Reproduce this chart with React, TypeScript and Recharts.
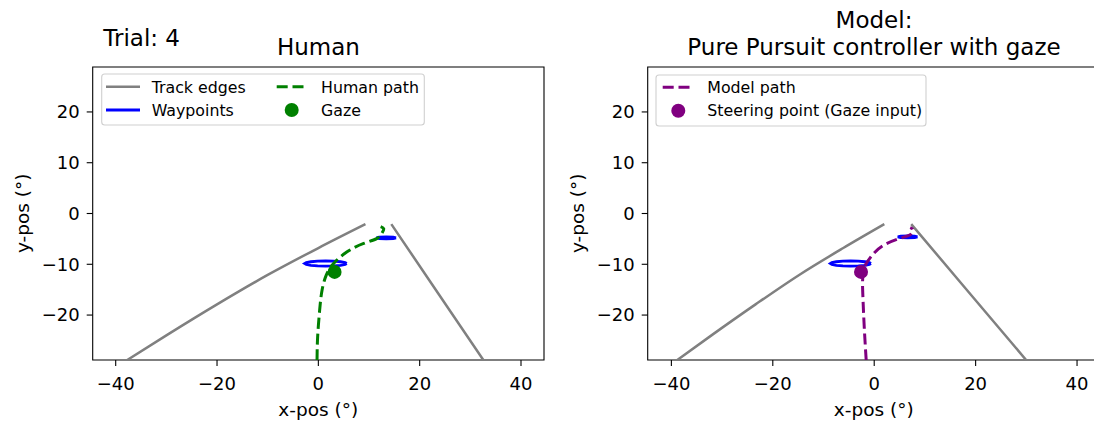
import { ScatterChart, Scatter, XAxis, YAxis, ReferenceArea } from "recharts";

type Pt = { x: number; y: number };

const xTicks = [-40, -20, 0, 20, 40];
const yTicks = [-20, -10, 0, 10, 20];

// left panel: human
const humanTrackLeft: Pt[] = [
  { x: -37.8, y: -28.9 }, { x: -30, y: -24.0 }, { x: -20, y: -17.9 },
  { x: -10, y: -12.1 }, { x: 0, y: -6.8 }, { x: 9.3, y: -2.1 },
];
const humanTrackRight: Pt[] = [
  { x: 14.4, y: -2.1 }, { x: 23.5, y: -15.5 }, { x: 32.6, y: -28.9 },
];
const humanWaypointsNear: Pt[] = [
  { x: 5.6, y: -9.85 }, { x: 5.28, y: -9.66 }, { x: 4.38, y: -9.5 }, { x: 3.04, y: -9.39 },
  { x: 1.45, y: -9.35 }, { x: -0.14, y: -9.39 }, { x: -1.48, y: -9.5 }, { x: -2.38, y: -9.66 },
  { x: -2.7, y: -9.85 }, { x: -2.38, y: -10.04 }, { x: -1.48, y: -10.2 }, { x: -0.14, y: -10.31 },
  { x: 1.45, y: -10.35 }, { x: 3.04, y: -10.31 }, { x: 4.38, y: -10.2 }, { x: 5.28, y: -10.04 },
  { x: 5.6, y: -9.85 },
];
const humanWaypointsFar: Pt[] = [
  { x: 15.35, y: -4.8 }, { x: 14.78, y: -4.66 }, { x: 13.4, y: -4.6 }, { x: 12.02, y: -4.66 },
  { x: 11.45, y: -4.8 }, { x: 12.02, y: -4.94 }, { x: 13.4, y: -5.0 }, { x: 14.78, y: -4.94 },
  { x: 15.35, y: -4.8 },
];
const humanPath: Pt[] = [
  { x: -0.26, y: -28.9 }, { x: -0.14, y: -24.3 }, { x: 0.26, y: -19.0 }, { x: 0.73, y: -15.1 },
  { x: 1.58, y: -12.1 }, { x: 3.0, y: -9.85 }, { x: 5.67, y: -7.55 }, { x: 8.95, y: -5.9 },
  { x: 11.6, y: -4.9 }, { x: 12.6, y: -3.8 }, { x: 12.9, y: -3.0 }, { x: 12.3, y: -2.6 },
];
const humanGaze: Pt[] = [{ x: 3.2, y: -11.5 }];

// right panel: model
const modelTrackLeft: Pt[] = [
  { x: -38.9, y: -28.9 }, { x: -32.1, y: -24.0 }, { x: -23.4, y: -17.9 },
  { x: -14.8, y: -12.1 }, { x: -6.1, y: -6.8 }, { x: 2.0, y: -2.1 },
];
const modelTrackRight: Pt[] = [
  { x: 7.3, y: -2.1 }, { x: 18.65, y: -15.5 }, { x: 30.0, y: -28.9 },
];
const modelWaypointsNear: Pt[] = [
  { x: -0.65, y: -9.85 }, { x: -0.95, y: -9.66 }, { x: -1.82, y: -9.5 }, { x: -3.12, y: -9.39 },
  { x: -4.65, y: -9.35 }, { x: -6.18, y: -9.39 }, { x: -7.48, y: -9.5 }, { x: -8.35, y: -9.66 },
  { x: -8.65, y: -9.85 }, { x: -8.35, y: -10.04 }, { x: -7.48, y: -10.2 }, { x: -6.18, y: -10.31 },
  { x: -4.65, y: -10.35 }, { x: -3.12, y: -10.31 }, { x: -1.82, y: -10.2 }, { x: -0.95, y: -10.04 },
  { x: -0.65, y: -9.85 },
];
const modelWaypointsFar: Pt[] = [
  { x: 8.55, y: -4.6 }, { x: 7.98, y: -4.46 }, { x: 6.6, y: -4.4 }, { x: 5.22, y: -4.46 },
  { x: 4.65, y: -4.6 }, { x: 5.22, y: -4.74 }, { x: 6.6, y: -4.8 }, { x: 7.98, y: -4.74 },
  { x: 8.55, y: -4.6 },
];
const modelPath: Pt[] = [
  { x: -1.58, y: -28.9 }, { x: -1.97, y: -22.3 }, { x: -2.23, y: -16.4 }, { x: -2.3, y: -13.5 },
  { x: -2.2, y: -11.8 }, { x: -1.78, y: -10.2 }, { x: -0.13, y: -7.9 }, { x: 1.84, y: -6.25 },
  { x: 4.47, y: -5.1 }, { x: 6.45, y: -4.47 }, { x: 7.4, y: -3.94 }, { x: 7.6, y: -3.15 },
  { x: 7.1, y: -2.76 },
];
const modelSteering: Pt[] = [{ x: -2.6, y: -11.5 }];

const FONT = "'DejaVu Sans', sans-serif";
const GRAY = "#808080";
const BLUE = "#0000ff";
const DASH = "11 4.8";

const fmt = (v: number) => String(v).replace("-", "\u2212");
const noDot = () => <g />;
const dot = (color: string) => (p: any) => <circle cx={p.cx} cy={p.cy} r={7} fill={color} />;

type PanelProps = {
  left: number;
  xDomain: [number, number];
  trackLeft: Pt[];
  trackRight: Pt[];
  wpNear: Pt[];
  wpFar: Pt[];
  path: Pt[];
  marker: Pt[];
  color: string;
};

const yDomain: [number, number] = [-28.85, 28.85];

function Panel({ left, xDomain, trackLeft, trackRight, wpNear, wpFar, path, marker, color }: PanelProps) {
  const tick = { fill: "#000", fontSize: 18, fontFamily: FONT };
  return (
    <div style={{ position: "absolute", left, top: 0 }}>
      <ScatterChart width={560} height={422} margin={{ top: 67, right: 16, bottom: 22, left: 0 }}>
        <XAxis type="number" dataKey="x" domain={xDomain} ticks={xTicks} allowDataOverflow
          tickFormatter={fmt} height={40} tickSize={6} tickMargin={11} axisLine={false}
          tickLine={{ stroke: "#000", strokeWidth: 1.1 }} tick={tick} />
        <YAxis type="number" dataKey="y" domain={yDomain} ticks={yTicks} allowDataOverflow
          tickFormatter={fmt} width={92.7} tickSize={6} tickMargin={7} axisLine={false}
          tickLine={{ stroke: "#000", strokeWidth: 1.1 }} tick={tick} />
        <Scatter data={trackLeft} line={{ stroke: GRAY, strokeWidth: 2.5 }} lineJointType="monotoneX" shape={noDot} isAnimationActive={false} />
        <Scatter data={trackRight} line={{ stroke: GRAY, strokeWidth: 2.5 }} shape={noDot} isAnimationActive={false} />
        <Scatter data={wpNear} line={{ stroke: BLUE, strokeWidth: 2.8 }} shape={noDot} isAnimationActive={false} />
        <Scatter data={wpFar} line={{ stroke: BLUE, strokeWidth: 2.8 }} shape={noDot} isAnimationActive={false} />
        <Scatter data={path} line={{ stroke: color, strokeWidth: 3, strokeDasharray: DASH }} lineJointType="natural" shape={noDot} isAnimationActive={false} />
        <Scatter data={marker} shape={dot(color)} isAnimationActive={false} />
        <ReferenceArea x1={xDomain[0]} x2={xDomain[1]} y1={yDomain[0]} y2={yDomain[1]}
          fill="none" stroke="#000" strokeWidth={1.1} ifOverflow="visible" />
      </ScatterChart>
    </div>
  );
}

export default function App() {
  const txt = { fontFamily: FONT, fill: "#000" };
  return (
    <div style={{ position: "absolute", left: 0, top: 0, width: 1094, height: 422, overflow: "hidden", background: "#fff" }}>
      <Panel left={0} xDomain={[-44.54, 44.54]} trackLeft={humanTrackLeft} trackRight={humanTrackRight}
        wpNear={humanWaypointsNear} wpFar={humanWaypointsFar} path={humanPath} marker={humanGaze} color="#008000" />
      <Panel left={554.6} xDomain={[-44.67, 44.33]} trackLeft={modelTrackLeft} trackRight={modelTrackRight}
        wpNear={modelWaypointsNear} wpFar={modelWaypointsFar} path={modelPath} marker={modelSteering} color="#800080" />
      <svg width={1094} height={422} style={{ position: "absolute", left: 0, top: 0, pointerEvents: "none" }}>
        <text x={103.3} y={46} fontSize={23} {...txt}>Trial: 4</text>
        <text x={318.4} y={55} fontSize={23} textAnchor="middle" {...txt}>Human</text>
        <text x={874} y={28.3} fontSize={23} textAnchor="middle" {...txt}>Model:</text>
        <text x={874} y={55} fontSize={23} textAnchor="middle" {...txt}>Pure Pursuit controller with gaze</text>
        <text x={318.3} y={415.5} fontSize={18.5} textAnchor="middle" {...txt}>x-pos (°)</text>
        <text x={873.8} y={415.5} fontSize={18.5} textAnchor="middle" {...txt}>x-pos (°)</text>
        <text transform="translate(29,213.3) rotate(-90)" fontSize={18.5} textAnchor="middle" {...txt}>y-pos (°)</text>
        <text transform="translate(583.6,213.3) rotate(-90)" fontSize={18.5} textAnchor="middle" {...txt}>y-pos (°)</text>

        <rect x={101.7} y={74} width={322.6} height={51} rx={3} fill="#fff" stroke="#d0d0d0" strokeWidth={1.1} />
        <line x1={106} x2={140} y1={86.7} y2={86.7} stroke={GRAY} strokeWidth={2.5} />
        <line x1={106} x2={140} y1={110} y2={110} stroke={BLUE} strokeWidth={2.8} />
        <line x1={276.7} x2={308} y1={86.7} y2={86.7} stroke="#008000" strokeWidth={3} strokeDasharray={DASH} />
        <circle cx={291.7} cy={110} r={7} fill="#008000" />
        <text x={151.7} y={93} fontSize={15.8} {...txt}>Track edges</text>
        <text x={151.7} y={116.3} fontSize={15.8} {...txt}>Waypoints</text>
        <text x={321} y={93} fontSize={15.8} {...txt}>Human path</text>
        <text x={321} y={116.3} fontSize={15.8} {...txt}>Gaze</text>

        <rect x={656} y={75} width={270} height={51} rx={3} fill="#fff" stroke="#d0d0d0" strokeWidth={1.1} />
        <line x1={662.7} x2={691.7} y1={87.3} y2={87.3} stroke="#800080" strokeWidth={3} strokeDasharray={DASH} />
        <circle cx={678.3} cy={110.7} r={7} fill="#800080" />
        <text x={707.3} y={93} fontSize={15.8} {...txt}>Model path</text>
        <text x={707.3} y={116.3} fontSize={15.8} {...txt}>Steering point (Gaze input)</text>
      </svg>
    </div>
  );
}
